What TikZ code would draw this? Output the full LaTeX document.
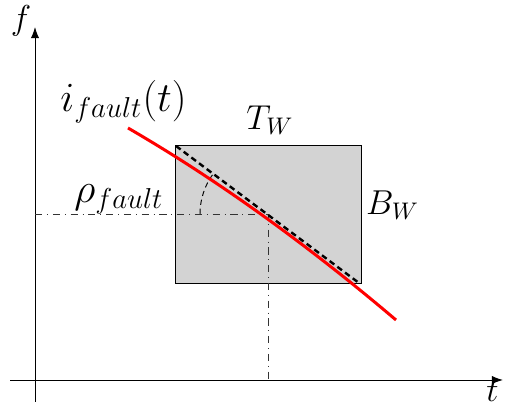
\documentclass[tikz,border=0pt]{standalone}
\usetikzlibrary{arrows.meta}
\definecolor{boxgray}{RGB}{211,211,211}
\begin{document}
\begin{tikzpicture}[x=0.4167pt,y=-0.4167pt,
  axis/.style={line width=0.4pt,-{Latex[length=4.6pt,width=3.4pt]}},
  guide/.style={line width=0.4pt,dash dot,black!80},
  winbox/.style={draw,line width=0.4pt,fill=boxgray,inner sep=0pt,minimum width=77.5pt,minimum height=57.9pt},
  diag/.style={line width=1pt,dash pattern=on 2.4pt off 1.6pt},
  fault/.style={red,line width=1.25pt},
  lbl/.style={inner sep=0pt,font=\Large}]
\useasboundingbox (0,0) rectangle (505,407);
% axes
\coordinate (yb) at (35,402);
\coordinate (yt) at (35,27);
\coordinate (xl) at (10,380);
\coordinate (xr) at (503,380);
\draw[axis] (yb) -- (yt);
\draw[axis] (xl) -- (xr);
\node[lbl] (f) at (21,21) {$f$};
\node[lbl,anchor=south east] (t) at (499,402) {$t$};
% window box
\node[winbox] (box) at (268,214.5) {};
% guides
\coordinate (P) at (268,214);
\coordinate (Py) at (35,214);
\coordinate (Px) at (268,380);
\draw[guide] (Py) -- (P) -- (Px);
% dashed diagonal
\coordinate (d1) at (176,146);
\coordinate (d2) at (359,283);
\draw[diag] (d1) -- (d2);
% angle arc
\coordinate (a0) at (200,214);
\draw[line width=0.4pt,dash pattern=on 2.2pt off 1.6pt] (a0) arc[start angle=180,end angle=143.5,radius=28.33pt];
% fault current
\coordinate (r1) at (128,128);
\coordinate (c1) at (216.4,179.3);
\coordinate (c2) at (305.7,243.3);
\coordinate (r2) at (396,320);
\draw[fault] (r1) .. controls (c1) and (c2) .. (r2);
% labels
\node[lbl,font=\LARGE] (ifault) at (123.5,102) {$i_{fault}(t)$};
\node[lbl,font=\LARGE] (rho) at (119,199.5) {$\rho_{fault}$};
\node[lbl] (TW) at (270,120) {$T_W$};
\node[lbl] (BW) at (392.5,205) {$B_W$};
\end{tikzpicture}
\end{document}
